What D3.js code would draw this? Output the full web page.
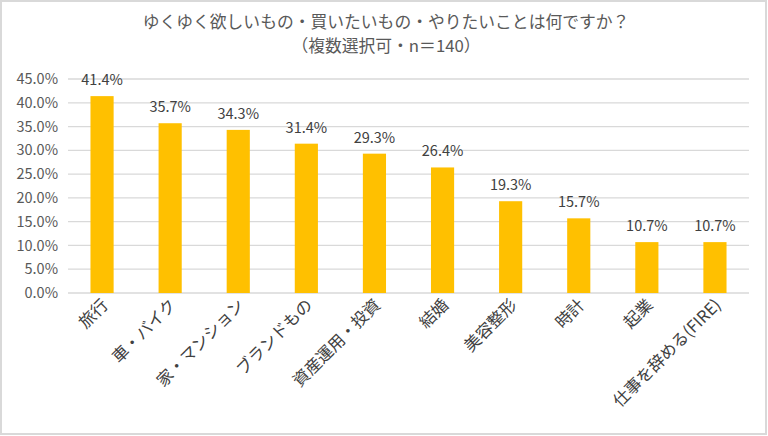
<!DOCTYPE html>
<html>
<head>
<meta charset="utf-8">
<script src="https://cdn.jsdelivr.net/npm/d3@7"></script>
<style>
  body { margin: 0; background: #fff; }
  text { font-family: "Noto Sans CJK JP", "Noto Sans", sans-serif; }
</style>
</head>
<body>
<div id="chart"></div>
<script>
// chart data
var categories = ['旅行', '車・バイク', '家・マンション', 'ブランドもの', '資産運用・投資', '結婚', '美容整形', '時計', '起業', '仕事を辞める(FIRE)'];
var values = [41.4, 35.7, 34.3, 31.4, 29.3, 26.4, 19.3, 15.7, 10.7, 10.7];
var yTicks = [0, 5, 10, 15, 20, 25, 30, 35, 40, 45];
var titleLines = ['ゆくゆく欲しいもの・買いたいもの・やりたいことは何ですか？', '（複数選択可・n＝140）'];

var W = 768, H = 436;
var svg = d3.select('#chart').append('svg')
    .attr('width', W)
    .attr('height', H);

// outer frame
svg.append('rect')
    .attr('x', 1).attr('y', 1)
    .attr('width', W - 3).attr('height', H - 3)
    .attr('fill', '#fff')
    .attr('stroke', '#d9d9d9')
    .attr('stroke-width', 2);

// title
svg.selectAll('text.title').data(titleLines).enter().append('text')
    .attr('class', 'title')
    .attr('x', 386)
    .attr('y', function(d, i){ return 28 + i * 24; })
    .attr('text-anchor', 'middle')
    .attr('font-size', 16.8)
    .attr('fill', '#595959')
    .text(function(d){ return d; });

var x = d3.scaleBand().domain(categories).range([68, 749]).paddingInner(0.66).paddingOuter(0.33);
var y = d3.scaleLinear().domain([0, 45]).range([293, 79]);

// grid lines
svg.selectAll('line.grid').data(yTicks).enter().append('line')
    .attr('x1', 68).attr('x2', 749)
    .attr('y1', function(d){ return y(d); })
    .attr('y2', function(d){ return y(d); })
    .attr('stroke', '#d9d9d9')
    .attr('stroke-width', 1.3);

// y axis labels
var yAxis = d3.axisLeft(y).tickValues(yTicks).tickSize(0).tickPadding(0)
    .tickFormat(function(d){ return d.toFixed(1) + '%'; });
var ya = svg.append('g').attr('transform', 'translate(58,0)').call(yAxis);
ya.select('.domain').remove();
ya.selectAll('text')
    .attr('font-size', 14.5)
    .attr('fill', '#595959')
    .style('font-family', '"Noto Sans CJK JP", "Noto Sans", sans-serif');

// bars
svg.selectAll('rect.bar').data(values).enter().append('rect')
    .attr('class', 'bar')
    .attr('x', function(d, i){ return x(categories[i]); })
    .attr('y', function(d){ return y(d); })
    .attr('width', x.bandwidth())
    .attr('height', function(d){ return y(0) - y(d); })
    .attr('fill', '#ffc000');

// value labels
svg.selectAll('text.val').data(values).enter().append('text')
    .attr('class', 'val')
    .attr('x', function(d, i){ return x(categories[i]) + x.bandwidth() / 2; })
    .attr('y', function(d){ return y(d) - 11; })
    .attr('text-anchor', 'middle')
    .attr('font-size', 14.5)
    .attr('fill', '#404040')
    .text(function(d){ return d.toFixed(1) + '%'; });

// category labels, rotated
svg.selectAll('text.cat').data(categories).enter().append('text')
    .attr('class', 'cat')
    .attr('transform', function(d){
        return 'translate(' + (x(d) + x.bandwidth() / 2 + 7) + ',' + 306 + ') rotate(-45)';
    })
    .attr('text-anchor', 'end')
    .attr('font-size', 16.5)
    .attr('fill', '#404040')
    .text(function(d){ return d; });
</script>
</body>
</html>
